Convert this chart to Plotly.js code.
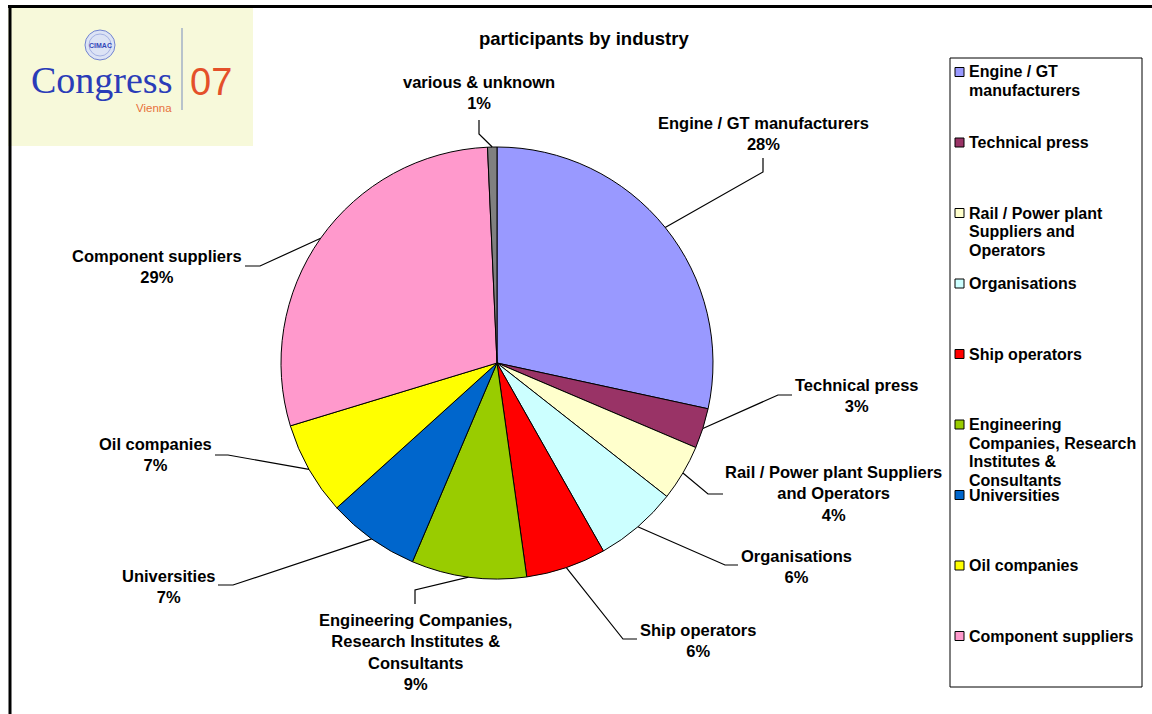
<!DOCTYPE html>
<html>
<head>
<meta charset="utf-8">
<script src="https://cdn.plot.ly/plotly-3.0.1.min.js"></script>
<style>html,body{margin:0;padding:0;background:#fff;}#chart{width:1152px;height:714px;}</style>
</head>
<body>
<div id="chart"></div>
<script>
// ---- data ----
var categories = ["Engine / GT manufacturers", "Technical press", "Rail / Power plant Suppliers and Operators",
  "Organisations", "Ship operators", "Engineering Companies, Research Institutes & Consultants",
  "Universities", "Oil companies", "Component suppliers", "various & unknown"];
var shares = [28.4, 3.0, 4.2, 6.2, 6.0, 8.6, 6.9, 7.0, 29.0, 0.7];
var colors = ["#9999FF", "#993366", "#FFFFCC", "#CCFFFF", "#FF0000", "#99CC00", "#0066CC", "#FFFF00", "#FF99CC", "#808080"];
// display text with line breaks (data labels)
var labelText = ["Engine / GT manufacturers", "Technical press", "Rail / Power plant Suppliers<br>and Operators",
  "Organisations", "Ship operators", "Engineering Companies,<br>Research Institutes &<br>Consultants",
  "Universities", "Oil companies", "Component suppliers", "various & unknown"];
// legend entries (various & unknown not shown in the legend)
var legendText = ["Engine / GT<br>manufacturers", "Technical press", "Rail / Power plant<br>Suppliers and<br>Operators",
  "Organisations", "Ship operators", "Engineering<br>Companies, Research<br>Institutes &<br>Consultants",
  "Universities", "Oil companies", "Component suppliers"];
var chartTitle = "participants by industry";

// ---- layout helpers (pixel positions) ----
var W = 1152, H = 714;
function px(x){ return x / W; }
function py(y){ return 1 - y / H; }
var cx = 497, cy = 363, R = 216;
// label block centres, and leader segment (label end -> elbow)
var labelPos = [[763,133],[857,395.5],[833,493],[796,566],[698,640],[415,652],[169,586],[155,455],[157,266],[479,92.5]];
var leaderSeg = [[763,158,763,172],[792,395,778,395],[723,494,708,494],[738,565,725,565],[637,639,623,639],
  [415,604,415,590],[218,585,233,585],[215,455,228,455],[245,266,260,266],[479,120,479,134]];

var total = shares.reduce(function(a,b){return a+b;},0);
var annotations = [], shapes = [];
var lblFont = {family:"Liberation Sans, Arial, sans-serif", size:16.5, color:"#000"};

function txt(x, y, text, font, xa, ya) {
  annotations.push({xref:"paper", yref:"paper", x:px(x), y:py(y), text:text, showarrow:false,
    xanchor:xa || "center", yanchor:ya || "middle", align:"center", font:font, borderpad:0});
}

// logo box
shapes.push({type:"rect", xref:"paper", yref:"paper", x0:px(8), x1:px(253), y0:py(5), y1:py(146),
  fillcolor:"#F7F9DA", line:{width:0}, layer:"below"});
// frame lines
shapes.push({type:"line", xref:"paper", yref:"paper", x0:px(10), x1:px(10), y0:py(5), y1:py(714), line:{color:"#000", width:3}});
shapes.push({type:"line", xref:"paper", yref:"paper", x0:px(8), x1:px(1152), y0:py(6.5), y1:py(6.5), line:{color:"#000", width:3}});
// logo: emblem, divider
shapes.push({type:"circle", xref:"paper", yref:"paper", x0:px(85), x1:px(115), y0:py(30), y1:py(60),
  fillcolor:"#DCE3F5", line:{color:"#7083D0", width:1}});
shapes.push({type:"circle", xref:"paper", yref:"paper", x0:px(89), x1:px(111), y0:py(34), y1:py(56),
  fillcolor:"rgba(0,0,0,0)", line:{color:"#95A4DD", width:0.8}});
shapes.push({type:"line", xref:"paper", yref:"paper", x0:px(182), x1:px(182), y0:py(28), y1:py(110), line:{color:"#8E9EC2", width:1.2}});
txt(100, 45, "<b>CIMAC</b>", {family:"Liberation Sans, Arial", size:7, color:"#3346B8"});
txt(101, 80, "Congress", {family:"Liberation Serif, Times New Roman, serif", size:38, color:"#2A3CB8"});
txt(211, 82, "07", {family:"Liberation Sans, Arial", size:38, color:"#E4502A"});
txt(154, 107.5, "Vienna", {family:"Liberation Sans, Arial", size:11.5, color:"#E8703A"});

// data labels + leader lines
var cum = 0;
for (var i = 0; i < shares.length; i++) {
  var mid = (cum + shares[i] / 2) / total * 2 * Math.PI;
  cum += shares[i];
  var ax = cx + R * Math.sin(mid), ay = cy - R * Math.cos(mid);
  var pct = Math.round(shares[i] / total * 100) + "%";
  txt(labelPos[i][0], labelPos[i][1], "<b>" + labelText[i] + "<br>" + pct + "</b>", lblFont);
  var s = leaderSeg[i];
  shapes.push({type:"path", xref:"paper", yref:"paper",
    path:"M " + px(s[0]) + " " + py(s[1]) + " L " + px(s[2]) + " " + py(s[3]) + " L " + px(ax) + " " + py(ay),
    line:{color:"#000", width:1.2}});
}

// title
txt(584, 38, "<b>" + chartTitle + "</b>", {family:"Liberation Sans, Arial", size:18.5, color:"#000"});

// legend box
shapes.push({type:"rect", xref:"paper", yref:"paper", x0:px(950), x1:px(1142), y0:py(58), y1:py(687),
  fillcolor:"rgba(0,0,0,0)", line:{color:"#000", width:1}});
var legFont = {family:"Liberation Sans, Arial", size:16, color:"#000"};
for (var j = 0; j < legendText.length; j++) {
  var y0 = 72 + j * 70.5;
  shapes.push({type:"rect", xref:"paper", yref:"paper", x0:px(955), x1:px(964), y0:py(y0 - 4.5), y1:py(y0 + 4.5),
    fillcolor:colors[j], line:{color:"#000", width:1}});
  var lines = legendText[j].split("<br>");
  for (var k = 0; k < lines.length; k++) {
    txt(968, y0 + k * 18.6, "<b>" + lines[k] + "</b>", legFont, "left", "middle");
  }
}

var trace = {type:"pie", values:shares, labels:categories, sort:false, direction:"clockwise", rotation:0,
  marker:{colors:colors, line:{color:"#000", width:1}}, textinfo:"none", hoverinfo:"label+percent",
  domain:{x:[px(cx - R), px(cx + R)], y:[py(cy + R), py(cy - R)]}, showlegend:false};

var layout = {width:W, height:H, margin:{l:0, r:0, t:0, b:0}, paper_bgcolor:"#fff", plot_bgcolor:"#fff",
  showlegend:false, shapes:shapes, annotations:annotations};

Plotly.newPlot("chart", [trace], layout, {displayModeBar:false, staticPlot:true});
</script>
</body>
</html>
